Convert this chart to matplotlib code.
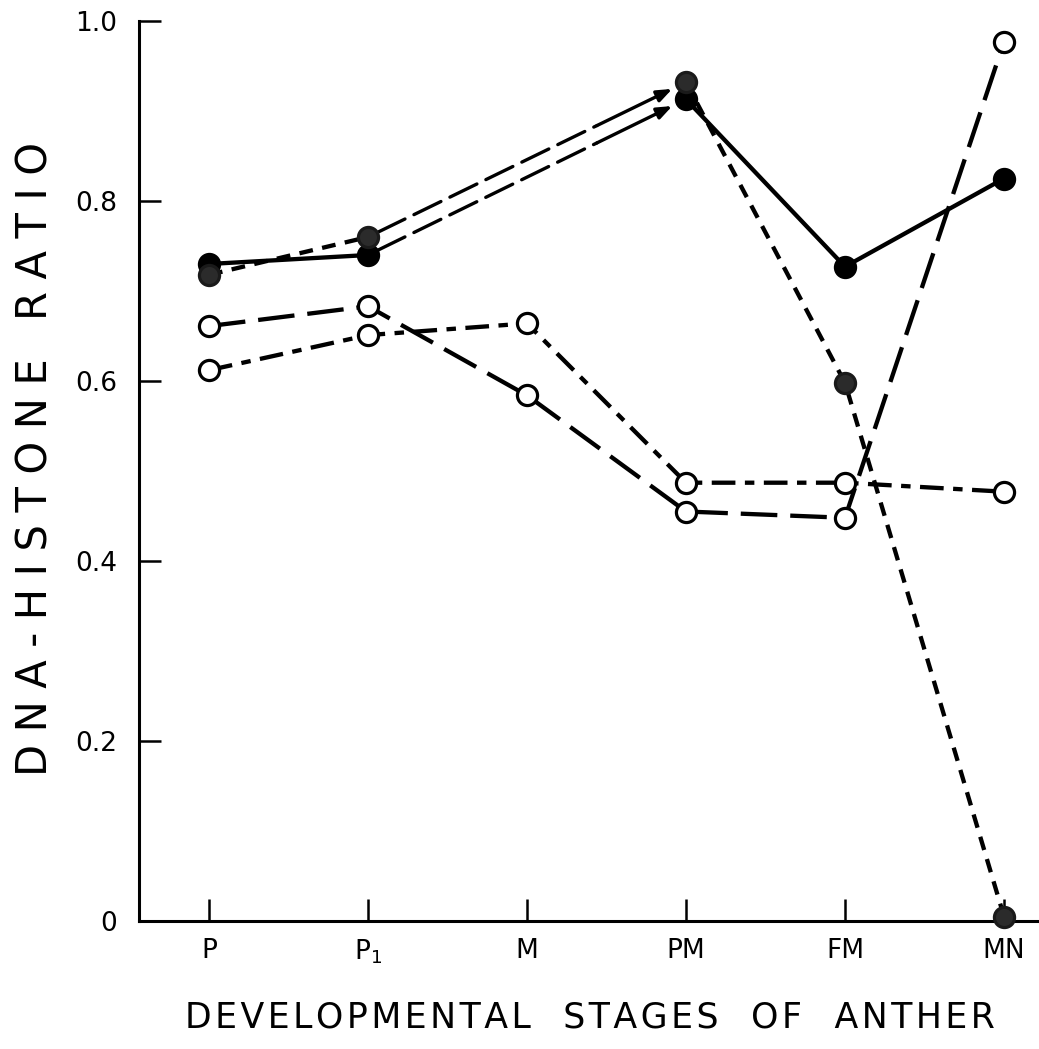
import numpy as np
import matplotlib
matplotlib.use("Agg")
import matplotlib.pyplot as plt

# Developmental stages of the anther
stages = ["P", "P$_1$", "M", "PM", "FM", "MN"]

# DNA-histone ratios (NaN = no measurement at that stage)
solid_filled = [0.730, 0.740, np.nan, 0.913, 0.727, 0.825]
dashed_filled = [0.718, 0.760, np.nan, 0.932, 0.598, 0.005]
longdash_open = [0.661, 0.683, 0.584, 0.455, 0.448, 0.977]
dashdot_open = [0.612, 0.651, 0.664, 0.487, 0.487, 0.477]

y_ticks = [0, 0.2, 0.4, 0.6, 0.8, 1.0]
y_tick_labels = ["0", "0.2", "0.4", "0.6", "0.8", "1.0"]

x_title = "DEVELOPMENTAL  STAGES  OF  ANTHER"
y_title = "DNA-HISTONE RATIO"

plt.rcParams["font.family"] = ["DejaVu Sans"]


def spaced(text, spacer):
    """Widen the letter spacing of a title."""
    return spacer.join(text)


W, H = 1039, 1049
fig = plt.figure(figsize=(W / 100, H / 100), dpi=100)
ax = fig.add_axes([139 / W, 1 - 921 / H, 900 / W, 900 / H])

x = np.arange(len(stages))
lw = 3.1
ms = 14.5


def draw_runs(vals, ls, marker_face, marker_edge):
    """Plot contiguous non-NaN runs of a series with markers."""
    v = np.asarray(vals, dtype=float)
    ok = ~np.isnan(v)
    start = None
    for i in range(len(v) + 1):
        if i < len(v) and ok[i]:
            if start is None:
                start = i
        else:
            if start is not None:
                seg = slice(start, i)
                ax.plot(x[seg], v[seg], color="black", lw=lw, linestyle=ls,
                        marker="o", ms=ms, mfc=marker_face, mec=marker_edge,
                        mew=2.3, clip_on=False, zorder=3,
                        dash_capstyle="butt", solid_capstyle="round")
                start = None


def bridge_arrow(vals, i0, i1):
    """Dashed connector with an arrowhead across stages without data."""
    x0, y0 = x[i0], vals[i0]
    x1, y1 = x[i1], vals[i1]
    f = 0.72
    xm, ym = x0 + f * (x1 - x0), y0 + f * (y1 - y0)
    ax.annotate("", xy=(xm, ym), xytext=(x0, y0),
                arrowprops=dict(arrowstyle="-", lw=2.4, linestyle=(0, (9, 3)),
                                shrinkA=8, shrinkB=0, color="black"),
                zorder=2)
    ax.annotate("", xy=(x1, y1), xytext=(xm, ym),
                arrowprops=dict(arrowstyle="-|>,head_length=0.9,head_width=0.35",
                                lw=2.4, shrinkA=0, shrinkB=11, color="black"),
                zorder=2)


draw_runs(solid_filled, "-", "black", "black")
draw_runs(dashed_filled, (0, (3.2, 2.2)), "#2b2b2b", "#1a1a1a")
draw_runs(longdash_open, (0, (8.5, 3)), "white", "black")
draw_runs(dashdot_open, (0, (5.5, 2.2, 2.2, 2.2)), "white", "black")

bridge_arrow(solid_filled, 1, 3)
bridge_arrow(dashed_filled, 1, 3)

ax.set_xlim(-70 / 159, 5 + 35 / 159)
ax.set_ylim(0, 1.0)

for side in ("top", "right"):
    ax.spines[side].set_visible(False)
for side in ("left", "bottom"):
    ax.spines[side].set_linewidth(2.2)

ax.set_xticks(x)
ax.set_xticklabels(stages, fontsize=19)
ax.set_yticks(y_ticks)
ax.set_yticklabels(y_tick_labels, fontsize=19)
ax.tick_params(axis="both", direction="in", length=16, width=1.8)
ax.tick_params(axis="y", pad=16)
ax.tick_params(axis="x", pad=12)

ax.set_xlabel(spaced(x_title, "\u200a"), fontsize=25)
ax.xaxis.set_label_coords(0.501, -0.088)
ax.set_ylabel(spaced(y_title, "\u2009\u200a"), fontsize=30)
ax.yaxis.set_label_coords(-0.092, 0.513)

fig.savefig("out.png", dpi=100)
